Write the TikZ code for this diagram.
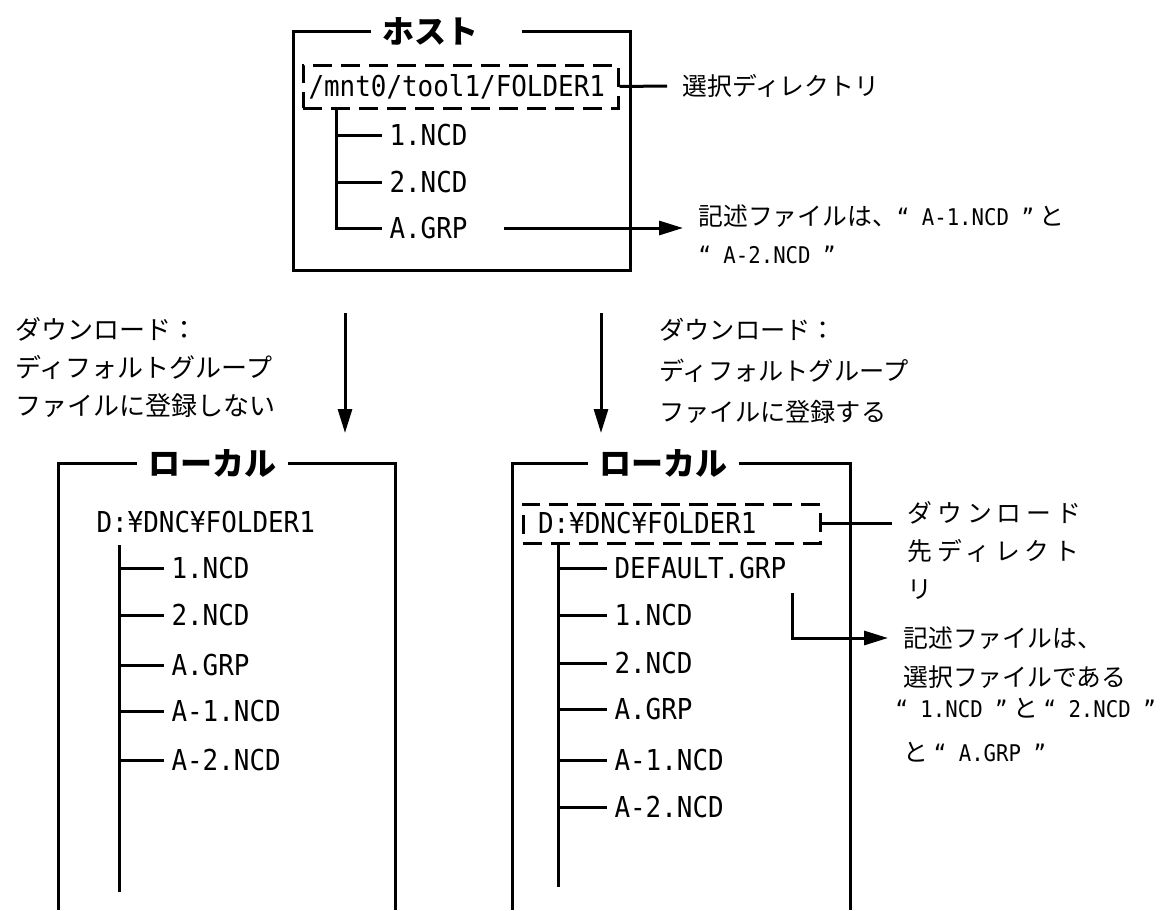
\documentclass[tikz,border=0pt]{standalone}
\usepackage{fontspec}
\setmainfont{Noto Sans CJK JP}
\newfontfamily\jpwide[LetterSpace=20]{Noto Sans CJK JP}
\newfontfamily\monofont[FakeStretch=0.9]{DejaVu Sans Mono}
\usetikzlibrary{shapes,arrows.meta,positioning}
\newcommand{\fname}{\monofont\fontsize{14.4pt}{17pt}\selectfont}
\newcommand{\fsmall}{\monofont\fontsize{11.5pt}{14pt}\selectfont}
\newcommand{\jtext}{\fontsize{12.4pt}{19pt}\selectfont}

\begin{document}
\begin{tikzpicture}[x=0.5pt, y=-0.5pt, line width=1.5pt,
	title_node/.style={font=\fontsize{16pt}{18pt}\selectfont\bfseries, inner xsep=5pt, inner ysep=0pt},
	file_node/.style={font=\fname, anchor=west, inner sep=3pt},
	dir_node/.style={draw, dash pattern=on 9.5pt off 4.5pt, font=\fname, align=left, inner ysep=0pt},
	note_node/.style={font=\jtext, anchor=west, align=left, inner xsep=7pt, inner ysep=0pt},
	arr/.style={-{Triangle[length=12pt,width=7pt]}}]
	
	\useasboundingbox (0,0) rectangle (1160,910);
	
	% host
	\node[title_node] (host) at (446,31) {ホスト　};
	\draw (host.west) -- (293,31) -- (293,270) -- (630,270) -- (630,31) -- (host.east);
	\node[dir_node, text width=152pt, inner xsep=2.75pt, minimum height=21.5pt] (host_dir) at (460.5,86.5) {/mnt0/tool1/FOLDER1};
	\node[file_node] (host_f1) at (382,135) {1.NCD};
	\node[file_node] (host_f2) at (382,182) {2.NCD};
	\node[file_node] (host_f3) at (382,228) {A.GRP};
	\coordinate (host_trunk) at (336,108);
	\draw (host_trunk) |- (host_f3.west);
	\draw (host_trunk |- host_f1) -- (host_f1.west);
	\draw (host_trunk |- host_f2) -- (host_f2.west);
	
	\node[note_node] (host_sel) at (667,86) {選択ディレクトリ};
	\draw (host_dir.east) -- (host_sel.west);
	\node[note_node] (host_note) at (683,234) {記述ファイルは、{\fsmall “ A-1.NCD ”} と\\{\fsmall “ A-2.NCD ”}};
	\draw[arr, shorten <=14.5pt] (host_f3.east) -- (host_f3.east -| host_note.west);
	
	% download
	\coordinate (dl1) at (345,313);
	\coordinate (dl2) at (345,433);
	\coordinate (dr1) at (601,313);
	\coordinate (dr2) at (601,433);
	\draw[arr] (dl1) -- (dl2);
	\draw[arr] (dr1) -- (dr2);
	\node[note_node, font=\fontsize{13pt}{19pt}\selectfont] (left_lbl) at (0,368) {ダウンロード：\\ディフォルトグループ\\ファイルに登録しない};
	\node[note_node, font=\fontsize{12.6pt}{20.5pt}\selectfont] (right_lbl) at (644,371) {ダウンロード：\\ディフォルトグループ\\ファイルに登録する};
	
	% local, left
	\node[title_node] (loc1) at (212,463) {ローカル};
	\draw (loc1.west) -- (58,463) -- (58,910);
	\draw (loc1.east) -- (395,463) -- (395,910);
	\node[file_node] (loc1_root) at (89,522) {D:¥DNC¥FOLDER1};
	\node[file_node] (loc1_f1) at (164,568) {1.NCD};
	\node[file_node] (loc1_f2) at (164,615) {2.NCD};
	\node[file_node] (loc1_f3) at (164,665) {A.GRP};
	\node[file_node] (loc1_f4) at (164,711) {A-1.NCD};
	\node[file_node] (loc1_f5) at (164,760) {A-2.NCD};
	\coordinate (loc1_trunk) at (119,545);
	\coordinate (loc1_end) at (119,892);
	\draw (loc1_trunk) -- (loc1_end);
	\draw (loc1_trunk |- loc1_f1) -- (loc1_f1.west);
	\draw (loc1_trunk |- loc1_f2) -- (loc1_f2.west);
	\draw (loc1_trunk |- loc1_f3) -- (loc1_f3.west);
	\draw (loc1_trunk |- loc1_f4) -- (loc1_f4.west);
	\draw (loc1_trunk |- loc1_f5) -- (loc1_f5.west);
	
	% local, right
	\node[title_node] (loc2) at (663,463) {ローカル};
	\draw (loc2.west) -- (512,463) -- (512,910);
	\draw (loc2.east) -- (850,463) -- (850,910);
	\node[dir_node, text width=133.5pt, inner xsep=7.5pt, minimum height=19.5pt] (loc2_dir) at (671.5,523.5) {D:¥DNC¥FOLDER1};
	\node[note_node, anchor=north west, font=\jpwide\jtext] (loc2_sel) at (892,500) {ダウンロード\\先ディレクト\\リ};
	\draw (loc2_dir.east) -- (loc2_dir.east -| loc2_sel.west);
	\node[file_node] (loc2_f0) at (607,568) {DEFAULT.GRP};
	\node[file_node] (loc2_f1) at (607,615) {1.NCD};
	\node[file_node] (loc2_f2) at (607,663) {2.NCD};
	\node[file_node] (loc2_f3) at (607,709) {A.GRP};
	\node[file_node] (loc2_f4) at (607,760) {A-1.NCD};
	\node[file_node] (loc2_f5) at (607,807) {A-2.NCD};
	\coordinate (loc2_trunk) at (558,543);
	\coordinate (loc2_end) at (558,887);
	\draw (loc2_trunk) -- (loc2_end);
	\draw (loc2_trunk |- loc2_f0) -- (loc2_f0.west);
	\draw (loc2_trunk |- loc2_f1) -- (loc2_f1.west);
	\draw (loc2_trunk |- loc2_f2) -- (loc2_f2.west);
	\draw (loc2_trunk |- loc2_f3) -- (loc2_f3.west);
	\draw (loc2_trunk |- loc2_f4) -- (loc2_f4.west);
	\draw (loc2_trunk |- loc2_f5) -- (loc2_f5.west);
	
	\node[note_node] (loc2_n1) at (888,638) {記述ファイルは、};
	\node[note_node] (loc2_n2) at (888,677) {選択ファイルである};
	\node[note_node] (loc2_n3) at (880,708) {{\fsmall “ 1.NCD ”} と {\fsmall “ 2.NCD ”}};
	\node[note_node] (loc2_n4) at (888,752) {と {\fsmall “ A.GRP ”}};
	\coordinate (grp_out) at (792,593);
	\draw[arr] (grp_out) |- (loc2_n1.west);
\end{tikzpicture}
\end{document}
